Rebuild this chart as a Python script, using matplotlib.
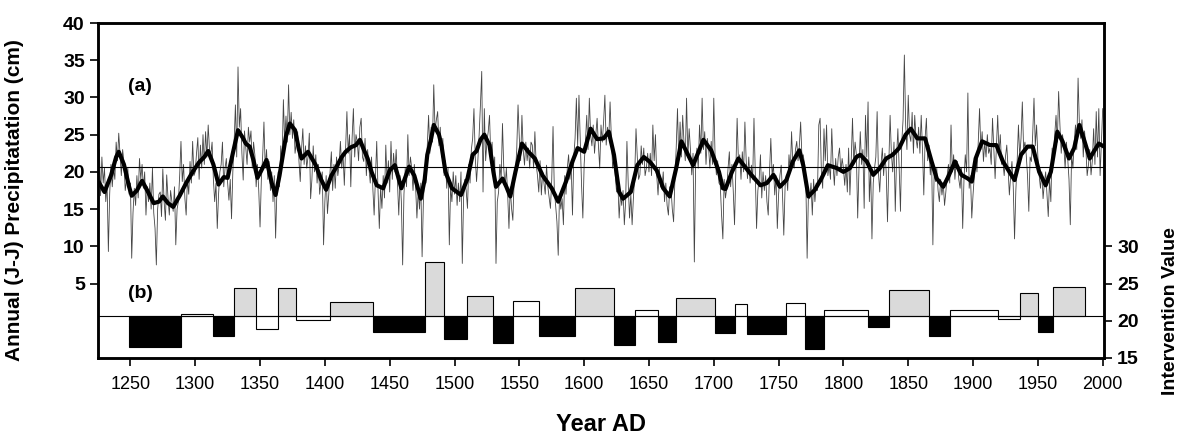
import numpy as np
import matplotlib.pyplot as plt

plt.rcParams['font.family'] = ['Liberation Sans', 'DejaVu Sans']

# (a) annual June-July precipitation, cm, 1226-2000
years = np.arange(1226, 2001)
precip = [
    23.0, 16.8, 22.0, 18.5,
    20.5, 16.0, 18.5, 9.3, 17.0, 21.0, 18.0, 20.5, 19.0, 24.0,
    21.5, 25.2, 22.3, 19.5, 23.0, 21.3, 17.5, 19.0, 20.5, 17.0,
    18.5, 8.4, 14.5, 17.8, 15.5, 19.5, 16.5, 21.8, 19.0, 21.0,
    17.8, 20.0, 14.2, 18.0, 16.0, 18.5, 15.0, 20.5, 14.5, 12.4,
    7.5, 15.0, 17.0, 17.3, 14.0, 20.4, 16.0, 13.5, 19.6, 16.5,
    14.2, 17.5, 16.0, 14.7, 18.0, 10.2, 15.0, 16.0, 19.5, 24.1,
    18.7, 21.0, 16.5, 14.2, 19.0, 17.0, 21.4, 18.5, 24.1, 19.5,
    20.0, 22.5, 24.6, 19.0, 23.6, 20.5, 25.0, 21.0, 25.4, 22.0,
    26.3, 23.0, 22.3, 24.0, 19.0, 16.0, 18.5, 12.4, 17.0, 20.0,
    21.0, 24.0, 18.0, 20.5, 21.8, 18.5, 16.2, 19.0, 13.7, 20.0,
    24.0, 29.0, 22.0, 34.1, 26.0, 28.5, 22.5, 18.9, 25.5, 23.2,
    21.0, 26.0, 24.0, 25.5, 20.5, 24.0, 22.3, 18.0, 21.0, 17.5,
    12.6, 19.0, 22.0, 26.7, 20.5, 23.0, 19.0, 21.4, 17.5, 20.0,
    16.0, 19.5, 11.1, 17.5, 20.0, 18.0, 23.5, 21.0, 29.7, 24.0,
    27.5, 24.0, 31.7, 25.0, 28.0, 24.5, 27.0, 22.5, 24.0, 25.4,
    21.5, 18.7, 23.0, 25.8, 21.0, 23.5, 20.5, 22.0, 25.2, 16.4,
    19.0, 23.5, 20.0, 22.3, 18.5, 21.0, 17.0, 18.7, 20.0, 10.2,
    16.0, 19.5, 14.4, 17.0, 20.0, 22.7, 17.5, 21.0, 17.8, 22.0,
    19.5, 21.0, 24.1, 20.5, 22.5, 18.2, 23.0, 28.1, 22.5, 25.0,
    18.0, 24.5, 28.5, 22.0, 25.0, 24.1, 21.5, 26.0, 27.2, 22.0,
    21.4, 24.5, 19.5, 23.0, 20.5, 18.5, 22.0, 17.8, 14.2, 19.0,
    24.1, 17.5, 12.4, 18.0, 15.1, 19.5, 16.5, 23.6, 18.5, 21.5,
    17.3, 24.1, 19.0, 22.5, 20.0, 23.0, 18.5, 14.2, 19.5, 16.0,
    7.5, 17.0, 20.5, 18.0, 25.0, 19.5, 22.0, 20.5, 17.5, 21.0,
    18.0, 13.8, 17.5, 15.0, 18.5, 8.6, 16.0, 20.0, 18.5, 23.5,
    27.6, 22.5, 26.0, 24.0, 31.7, 25.5, 27.0, 28.1, 23.5, 26.0,
    22.0, 24.5, 19.5, 21.5, 17.8, 20.5, 10.2, 18.0, 16.0, 20.0,
    17.0, 19.5, 15.5, 18.5, 16.0, 20.0, 7.7, 16.5, 19.0, 17.5,
    15.1, 21.0, 18.5, 23.0, 24.5, 28.5, 22.0, 18.7, 21.5, 25.0,
    29.0, 33.5, 17.3, 28.5, 21.5, 24.0, 25.4, 27.6, 22.0, 24.0,
    19.6, 22.0, 7.7, 16.0, 17.3, 21.0, 19.0, 26.5, 20.5, 18.0,
    20.5, 17.0, 12.4, 18.0, 15.1, 13.5, 19.0, 20.0, 23.0, 29.0,
    24.5, 21.5, 27.6, 23.0, 20.9, 24.0, 21.5, 23.2, 20.5, 24.0,
    23.6, 20.5, 25.4, 21.0, 19.5, 17.3, 21.5, 16.9, 20.0, 18.5,
    17.0, 20.9, 18.0, 16.5, 15.1, 19.0, 26.1, 17.5, 15.5, 13.3,
    8.8, 17.0, 15.0, 16.4, 12.9, 19.5, 17.0, 20.5, 22.3, 19.0,
    21.0, 14.2, 22.0, 24.5, 29.9, 23.5, 30.3, 24.0, 18.2, 13.8,
    21.0, 24.0, 27.6, 23.0, 29.9, 25.0, 23.5, 26.3, 22.5, 25.0,
    27.2, 23.6, 20.5, 26.3, 24.0, 26.7, 30.3, 23.6, 26.0, 24.5,
    29.4, 24.5, 20.5, 22.0, 19.5, 17.3, 18.5, 13.8, 17.0, 15.5,
    17.5, 12.9, 16.0, 24.1, 18.5, 13.8, 17.0, 12.9, 16.5, 19.5,
    25.8, 22.0, 19.0, 19.6, 23.5, 21.0, 23.2, 19.5, 20.5, 22.5,
    20.0, 22.5, 19.5, 26.3, 21.5, 25.0, 19.5, 16.9, 20.5, 18.0,
    17.8, 20.0, 16.0, 18.5, 15.5, 14.2, 18.0, 17.8, 15.0, 13.3,
    19.0, 23.2, 28.5, 21.5, 26.7, 22.0, 27.6, 24.0, 21.5, 29.9,
    22.0, 25.8, 23.0, 19.6, 22.5, 7.9, 21.0, 23.2, 20.5, 26.3,
    22.5, 29.9, 23.0, 25.4, 21.0, 24.5, 23.2, 20.5, 24.1, 21.0,
    29.9, 22.0, 19.6, 21.5, 18.5, 18.2, 14.2, 11.0, 19.0, 16.5,
    17.8, 20.5, 22.7, 18.0, 21.0, 17.5, 12.9, 20.0, 27.2, 21.5,
    22.3, 19.0, 22.7, 20.0, 26.7, 21.5, 19.1, 22.0, 18.5, 20.9,
    19.0, 27.2, 20.0, 12.4, 17.5, 19.0, 22.3, 16.5, 20.0, 17.5,
    19.5, 16.0, 14.2, 20.0, 24.5, 19.5, 21.0, 16.9, 19.5, 12.4,
    17.0, 19.5, 20.9, 17.0, 11.5, 18.0, 19.6, 17.5, 22.3, 20.0,
    25.4, 21.0, 20.5, 23.0, 24.1, 21.5, 23.5, 26.7, 22.0, 22.3,
    21.0, 18.7, 8.4, 17.0, 16.4, 18.5, 14.2, 19.0, 16.0, 18.5,
    17.5, 26.3, 27.2, 20.0, 17.8, 25.8, 21.5, 26.3, 19.5, 20.9,
    19.0, 25.8, 21.0, 18.2, 21.8, 19.5, 22.0, 23.2, 20.0, 21.8,
    20.5, 18.2, 21.0, 17.3, 23.2, 16.9, 21.5, 27.2, 21.0, 24.0,
    22.3, 13.8, 20.5, 25.4, 21.0, 23.0, 15.1, 27.6, 22.0, 29.4,
    16.0, 20.5, 11.0, 18.5, 20.5, 22.0, 28.1, 20.0, 17.3, 21.0,
    23.2, 19.5, 22.5, 20.0, 13.3, 21.0, 27.6, 22.5, 20.0, 24.0,
    14.7, 22.0, 25.8, 20.5, 14.7, 24.0, 27.0, 35.7, 26.3, 23.0,
    30.3, 25.0, 24.1, 28.0, 22.5, 27.6, 24.5, 23.2, 26.0, 22.5,
    27.6, 23.0, 16.9, 24.5, 27.2, 21.5, 23.6, 19.6, 22.0, 10.2,
    20.0, 18.7, 20.5, 17.5, 16.0, 19.0, 16.9, 18.5, 15.5, 17.3,
    19.5, 21.0, 18.5, 26.3, 20.0, 22.3, 19.0, 21.5, 21.4, 19.0,
    17.8, 20.5, 12.4, 19.0, 22.3, 20.0, 30.6, 17.8, 19.5, 13.8,
    17.0, 19.6, 22.0, 20.0, 24.0, 28.5, 23.0, 25.4, 21.4, 24.0,
    22.0, 25.0, 22.5, 23.2, 21.0, 27.2, 23.0, 19.1, 23.5, 27.6,
    22.5, 25.0, 21.0, 21.4, 19.5, 22.0, 23.6, 20.5, 16.9, 19.5,
    21.4, 18.0, 11.0, 17.5, 21.4, 26.3, 22.0, 24.5, 29.4, 23.0,
    24.0, 22.3, 19.5, 14.7, 22.0, 21.4, 25.0, 29.9, 23.5, 26.3,
    22.0, 19.5, 17.8, 20.0, 16.4, 18.5, 20.0, 17.0, 14.0, 19.0,
    16.0, 23.2, 21.0, 25.0, 27.6, 24.0, 30.8, 26.3, 22.5, 25.0,
    23.6, 20.5, 24.0, 21.8, 19.0, 12.9, 22.3, 20.5, 24.0, 26.3,
    23.0, 32.6, 26.5, 24.5, 27.0, 22.0, 25.5, 23.2, 19.5, 20.9,
    23.0, 19.6, 21.5, 25.8, 21.0, 28.1, 22.0, 28.5, 19.5, 24.0,
    28.5,
]

# smoothed curve (thick line)
smooth_years = [
    1226, 1230, 1235, 1239, 1241, 1245, 1249, 1251, 1255, 1259, 1263, 1268,
    1272, 1275, 1279, 1283, 1288, 1293, 1298, 1303, 1307, 1310, 1314, 1318,
    1322, 1325, 1329, 1333, 1337, 1339, 1342, 1345, 1348, 1351, 1355, 1359,
    1362, 1365, 1368, 1370, 1373, 1377, 1380, 1382, 1387, 1390, 1393, 1397,
    1401, 1405, 1409, 1413, 1416, 1420, 1424, 1427, 1430, 1433, 1436, 1440,
    1445, 1450, 1454, 1459, 1465, 1469, 1474, 1477, 1479, 1482, 1484, 1488,
    1490, 1493, 1498, 1505, 1510, 1514, 1517, 1520, 1523, 1527, 1530, 1532,
    1537, 1540, 1543, 1547, 1552, 1557, 1562, 1568, 1575, 1580, 1586, 1591,
    1595, 1600, 1605, 1610, 1615, 1619, 1623, 1627, 1630, 1636, 1641, 1646,
    1651, 1656, 1661, 1666, 1671, 1675, 1679, 1684, 1692, 1698, 1704, 1707,
    1709, 1714, 1719, 1724, 1729, 1736, 1741, 1746, 1751, 1756, 1761, 1766,
    1769, 1773, 1778, 1783, 1788, 1795, 1800, 1805, 1810, 1813, 1818, 1823,
    1828, 1833, 1838, 1843, 1848, 1852, 1857, 1863, 1868, 1872, 1877, 1881,
    1886, 1891, 1896, 1899, 1902, 1907, 1913, 1918, 1923, 1928, 1932, 1937,
    1942, 1946, 1951, 1956, 1960, 1965, 1969, 1974, 1978, 1982, 1986, 1990,
    1993, 1997, 2000,
]
smooth_vals = [
    18.5, 17.3, 19.5, 22.0, 22.7, 21.0, 18.0, 16.8, 17.5, 18.8, 17.5, 15.8,
    16.0, 16.7, 15.8, 15.3, 16.8, 18.5, 20.0, 21.3, 22.0, 22.8, 21.0, 18.3,
    19.3, 19.2, 22.5, 25.6, 24.5, 23.8, 23.4, 21.5, 19.2, 20.2, 21.6, 18.5,
    16.9, 19.5, 22.7, 24.8, 26.5, 25.6, 23.0, 21.8, 22.7, 21.8, 20.9, 19.0,
    17.6, 19.5, 20.7, 22.0, 22.7, 23.3, 23.6, 24.3, 23.0, 21.8, 20.0, 18.2,
    17.8, 20.2, 20.9, 17.8, 20.7, 19.5, 16.4, 19.0, 22.3, 24.5, 26.3, 25.0,
    23.5, 20.0, 17.8, 16.9, 19.1, 22.3, 22.8, 24.3, 25.0, 23.6, 20.0, 18.0,
    19.1, 18.0, 16.7, 20.0, 23.8, 22.7, 21.8, 19.5, 17.8, 16.0, 18.7, 21.4,
    23.2, 22.7, 25.8, 24.4, 24.5, 25.4, 22.3, 17.3, 16.4, 17.3, 20.9, 22.0,
    21.3, 20.2, 17.8, 16.7, 20.5, 24.1, 22.7, 20.9, 24.3, 22.9, 20.0, 17.8,
    17.7, 20.0, 21.8, 20.7, 19.6, 18.2, 18.5, 19.6, 18.0, 18.9, 21.4, 22.9,
    20.9, 16.7, 17.6, 19.1, 20.9, 20.5, 20.0, 20.5, 22.0, 22.3, 21.4, 19.6,
    20.5, 21.8, 22.3, 23.2, 25.0, 25.8, 24.5, 24.5, 21.4, 19.1, 18.0, 19.4,
    21.4, 19.6, 19.1, 18.7, 21.8, 24.1, 23.6, 23.6, 21.4, 20.0, 18.9, 22.3,
    23.4, 23.4, 20.0, 18.2, 20.0, 25.4, 24.1, 21.8, 23.2, 26.3, 24.1, 21.8,
    22.7, 23.8, 23.5,
]
mean_precip = 20.65

# (b) intervention periods: start year, end year, value, fill kind
iv_start = [1249, 1289, 1314, 1330, 1347, 1364, 1378, 1404, 1437, 1477, 1492,
            1510, 1530, 1545, 1565, 1593, 1623, 1639, 1657, 1671, 1701, 1716,
            1726, 1756, 1770, 1785, 1819, 1835, 1866, 1882, 1919, 1936, 1950,
            1962]
iv_end = [1289, 1314, 1330, 1347, 1364, 1378, 1404, 1437, 1477, 1492, 1510,
          1530, 1545, 1565, 1593, 1623, 1639, 1657, 1671, 1701, 1716, 1726,
          1756, 1770, 1785, 1819, 1835, 1866, 1882, 1919, 1936, 1950, 1962,
          1986]
iv_value = [16.5, 20.9, 18.0, 24.4, 18.9, 24.4, 20.1, 22.5, 18.5, 27.9, 17.6,
            23.3, 17.0, 22.7, 18.0, 24.4, 16.7, 21.5, 17.2, 23.0, 18.3, 22.3,
            18.2, 22.4, 16.2, 21.4, 19.1, 24.2, 17.9, 21.5, 20.2, 23.7, 18.5,
            24.6]
iv_kind = ['b', 'w', 'b', 's', 'w', 's', 'w', 's', 'b', 's', 'b',
           's', 'b', 'w', 'b', 's', 'b', 'w', 'b', 's', 'b', 'w',
           'b', 'w', 'b', 'w', 'b', 's', 'b', 'w', 'w', 's', 'b',
           's']
iv_base = 20.65

fig = plt.figure(figsize=(11.83, 4.37), dpi=100)
ax = fig.add_axes([98 / 1183, 79 / 437, 1006 / 1183, 335 / 437])

ax.plot(years, precip, color='#454545', lw=0.6)
ax.plot(smooth_years, smooth_vals, color='black', lw=3.0, solid_joinstyle='round')
ax.axhline(mean_precip, color='black', lw=0.8)
ax.set_xlim(1225, 2001)
ax.set_ylim(-5, 40)
ax.set_yticks(range(5, 41, 5))
ax.set_xticks(range(1250, 2001, 50))

ax2 = ax.twinx()
ax2.set_ylim(15, 60)
ax2.set_yticks([15, 20, 25, 30])
fills = {'b': 'black', 's': '#dadada', 'w': 'white'}
ax2.bar(iv_start, np.subtract(iv_value, iv_base), width=np.subtract(iv_end, iv_start),
        bottom=iv_base, align='edge', color=[fills[k] for k in iv_kind],
        edgecolor='black', linewidth=0.8)
ax2.axhline(iv_base, color='black', lw=0.8)

for a in (ax, ax2):
    for s in a.spines.values():
        s.set_linewidth(1.8)
    a.tick_params(direction='out', length=6, width=1.2)

ax.tick_params(axis='y', labelsize=14)
ax2.tick_params(axis='y', labelsize=14)
ax.tick_params(axis='x', labelsize=13, pad=7)
for lab in ax.get_yticklabels() + ax2.get_yticklabels():
    lab.set_fontweight('bold')
for lab in ax.get_xticklabels():
    lab.set_family(['Liberation Sans Narrow', 'Liberation Sans'])

ax.text(1257.5, 31.5, '(a)', ha='center', va='center', fontsize=14, fontweight='bold')
ax.text(1257.5, 3.7, '(b)', ha='center', va='center', fontsize=14, fontweight='bold')

ax.set_ylabel('Annual (J-J) Precipitatation (cm)', fontsize=15, fontweight='bold')
ax.yaxis.set_label_coords(-0.074, 0.47)
ax2.set_ylabel('Intervention Value', fontsize=14, fontweight='bold')
ax2.yaxis.set_label_coords(1.058, 0.14)
ax.set_xlabel('Year AD', fontsize=17, fontweight='bold')
ax.xaxis.set_label_coords(0.5, -0.165)

fig.savefig('out.png', dpi=100)
